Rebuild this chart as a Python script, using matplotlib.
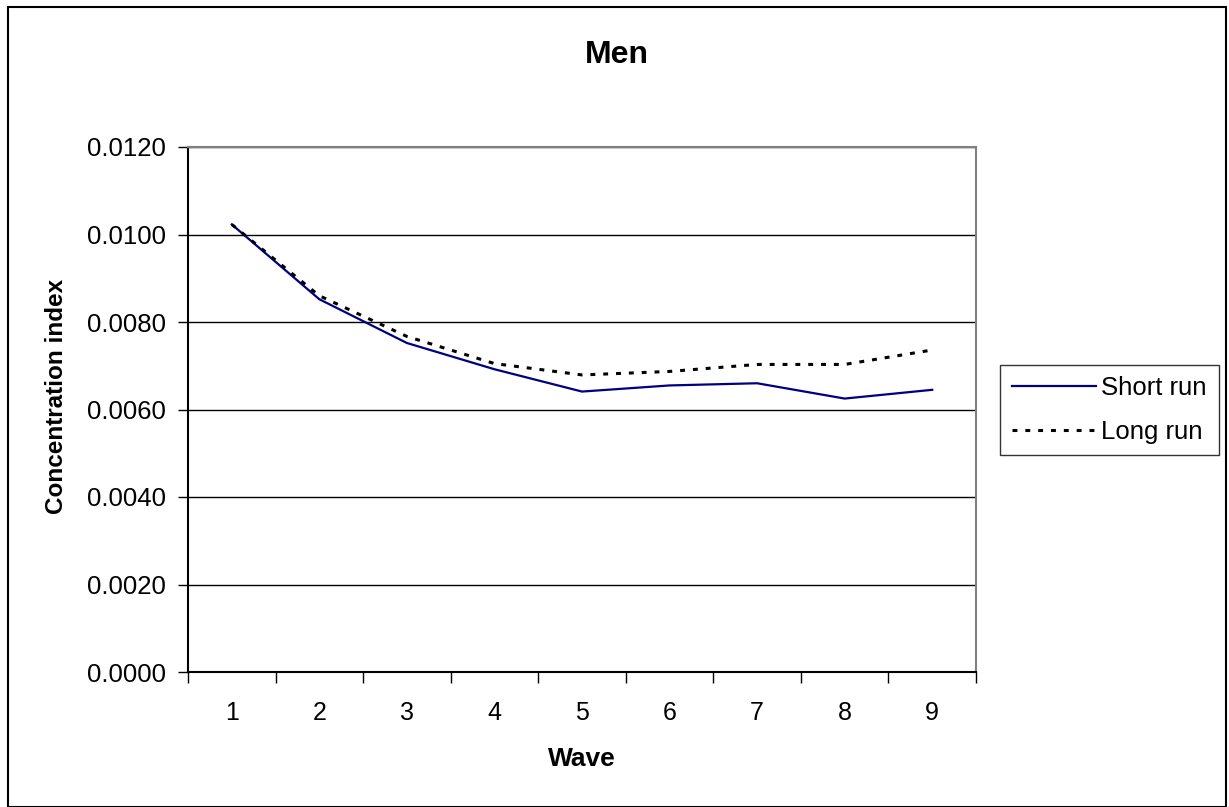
import matplotlib
matplotlib.use("Agg")
import matplotlib.pyplot as plt
from matplotlib.patches import Rectangle

plt.rcParams['font.family'] = ['Liberation Sans', 'DejaVu Sans']

waves = [1, 2, 3, 4, 5, 6, 7, 8, 9]
short_run = [0.01023, 0.00852, 0.00752, 0.00692, 0.00641, 0.00655, 0.00660, 0.00625, 0.00645]
long_run = [0.01023, 0.00860, 0.00767, 0.00705, 0.00679, 0.00687, 0.00703, 0.00703, 0.00736]
y_ticks = [0.0, 0.002, 0.004, 0.006, 0.008, 0.010, 0.012]


def main():
    fig = plt.figure(figsize=(12.29, 8.07), dpi=100)
    ax = fig.add_axes([188 / 1229, 1 - 672 / 807, (976 - 188) / 1229, (672 - 147) / 807])

    # outer chart frame
    fig.patches.append(Rectangle((8 / 1229, 0.0), (1226 - 8) / 1229, (807 - 7) / 807,
                                 transform=fig.transFigure, fill=False,
                                 edgecolor='black', linewidth=1.5, zorder=0))

    ax.plot(waves, short_run, color='#000080', linewidth=1.6, label='Short run', zorder=3)
    ax.plot(waves, long_run, color='black', linewidth=2.2, dashes=(1.6, 2.6),
            label='Long run', zorder=4)

    ax.set_xlim(0.5, 9.5)
    ax.set_ylim(0, 0.012)
    ax.set_yticks(y_ticks)
    ax.set_yticklabels(["%.4f" % v for v in y_ticks], fontsize=18.5)
    ax.set_xticks(waves)
    ax.set_xticklabels([str(w) for w in waves], fontsize=18)
    ax.set_xticks([w + 0.5 for w in [0] + waves], minor=True)
    ax.tick_params(axis='x', which='major', length=0, pad=21)
    ax.tick_params(axis='x', which='minor', length=8, width=1, direction='out')
    ax.tick_params(axis='y', length=7, width=1, direction='out', pad=9)

    ax.grid(axis='y', color='black', linewidth=1)
    ax.set_axisbelow(True)

    for side in ['top', 'right']:
        ax.spines[side].set_color('#808080')
        ax.spines[side].set_linewidth(1.5)
    for side in ['left', 'bottom']:
        ax.spines[side].set_color('black')
        ax.spines[side].set_linewidth(1.5)

    fig.text(617 / 1229, 1 - 55 / 807, "Men", fontsize=23, fontweight='bold',
             ha='center', va='center')
    ax.set_xlabel("Wave", fontsize=19, fontweight='bold', labelpad=16)
    ax.set_ylabel("Concentration index", fontsize=17.5, fontweight='bold')
    ax.yaxis.set_label_coords(-(188 - 68) / 788, (672 - 396) / 525)

    leg = ax.legend(loc='center left', bbox_to_anchor=(1000 / 1229, 1 - 410 / 807),
                    bbox_transform=fig.transFigure, fontsize=18.5, frameon=True,
                    fancybox=False, edgecolor='black', handlelength=3.3,
                    handletextpad=0.2, borderpad=0.45, labelspacing=0.75,
                    borderaxespad=0)
    leg.get_frame().set_linewidth(1)

    plt.savefig('out.png', dpi=100)
    plt.close('all')


if __name__ == '__main__':
    main()
